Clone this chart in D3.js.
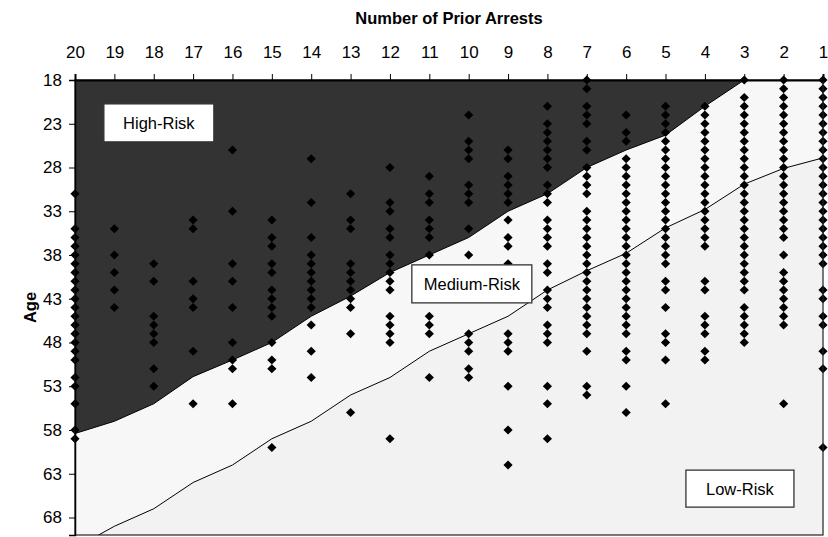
<!DOCTYPE html>
<html>
<head>
<meta charset="utf-8">
<title>Prior Arrests vs Age</title>
<script src="https://d3js.org/d3.v7.min.js"></script>
<style>
  body { margin: 0; background: #fff; }
  text { font-family: "Liberation Sans", Arial, sans-serif; }
  .tick text { font-size: 17px; fill: #000; }
</style>
</head>
<body>
<div id="chart"></div>
<script>
// x categories (number of prior arrests), left to right
const arrests = [20, 19, 18, 17, 16, 15, 14, 13, 12, 11, 10, 9, 8, 7, 6, 5, 4, 3, 2, 1];
const ageTicks = [18, 23, 28, 33, 38, 43, 48, 53, 58, 63, 68];

// boundary ages for each arrests value
const highBoundary = [58.4, 57, 55, 51.9, 50, 48, 45, 42.7, 40, 38, 36, 33, 31, 28, 26, 24.3, 21, 18, 18, 18];
const lowBoundary = [71.5, 69, 67, 64, 62, 59, 57, 54, 52, 49, 47, 45, 42, 39.8, 37.8, 34.9, 32.8, 29.9, 28.1, 26.9];

// ages observed in each column
const span = (a, b) => d3.range(a, b + 1);
const agesByArrests = {
  20: [31, ...span(35, 50), 52, 53, 55, 58, 59],
  19: [35, 38, 40, 42, 44],
  18: [39, 41, 45, 46, 47, 48, 51, 53],
  17: [34, 35, 41, 43, 44, 49, 55],
  16: [26, 33, 39, 41, 44, 48, 50, 51, 55],
  15: [34, 36, 37, 39, 40, 42, 43, 44, 45, 48, 50, 51, 60],
  14: [27, 32, 36, ...span(38, 44), 46, 49, 52],
  13: [31, 34, 35, ...span(39, 44), 47, 56],
  12: [28, 32, 33, 35, 36, ...span(38, 42), 45, 46, 47, 48, 59],
  11: [29, 31, 32, 34, 35, 36, 38, 45, 46, 47, 52],
  10: [22, 25, 26, 27, 30, 31, 32, 35, 38, 47, 48, 49, 51, 52],
  9: [26, 27, 29, 30, 31, 32, 34, 36, 37, 39, 47, 48, 49, 53, 58, 62],
  8: [21, 23, 24, 25, 26, 27, 28, 30, 31, 32, 34, 35, 36, 37, 39, 40, 42, 43, 44, 46, 47, 48, 53, 55, 59],
  7: [18, 19, 21, 22, 23, 25, 26, ...span(28, 31), ...span(33, 47), 49, 53, 54],
  6: [22, 24, 25, ...span(27, 47), 49, 50, 53, 56],
  5: [...span(21, 39), 41, 42, 44, 47, 48, 50, 55],
  4: [...span(21, 37), 41, 42, 45, 46, 47, 49, 50],
  3: [18, ...span(20, 42), ...span(44, 48)],
  2: [...span(18, 36), 38, ...span(40, 46), 55],
  1: [...span(18, 39), 42, 43, 45, 46, 49, 51, 60]
};

const zones = [
  {name: "High-Risk", arrests: 17.87, age: 22.9, w: 110, h: 38},
  {name: "Medium-Risk", arrests: 9.92, age: 41.3, w: 120, h: 38},
  {name: "Low-Risk", arrests: 3.11, age: 64.7, w: 108, h: 37}
];

const W = 828, H = 537;
const pL = 75, pR = 823, pT = 80, pB = 535;

const svg = d3.select("#chart").append("svg")
  .attr("width", W).attr("height", H);

const x = d3.scaleLinear().domain([20, 1]).range([pL, pR]);
const y = d3.scaleLinear().domain([18, 70]).range([pT, pB]);

svg.append("clipPath").attr("id", "plot")
  .append("rect").attr("x", pL).attr("y", pT)
  .attr("width", pR - pL).attr("height", pB - pT);

const g = svg.append("g").attr("clip-path", "url(#plot)");

// background zones
const idx = arrests.map((d, i) => i);
g.append("path")
  .attr("fill", "#f2f2f2")
  .attr("d", d3.area().x(i => x(arrests[i])).y0(() => y(70)).y1(i => y(lowBoundary[i]))(idx));
g.append("path")
  .attr("fill", "#f7f7f7")
  .attr("d", d3.area().x(i => x(arrests[i])).y0(i => y(lowBoundary[i])).y1(i => y(highBoundary[i]))(idx));
g.append("path")
  .attr("fill", "#333333")
  .attr("d", d3.area().x(i => x(arrests[i])).y0(i => y(highBoundary[i])).y1(() => y(18))(idx));

const line = d3.line().x(i => x(arrests[i]));
g.append("path").attr("fill", "none").attr("stroke", "#000").attr("stroke-width", 1)
  .attr("d", line.y(i => y(lowBoundary[i]))(idx));
g.append("path").attr("fill", "none").attr("stroke", "#000").attr("stroke-width", 1)
  .attr("d", line.y(i => y(highBoundary[i]))(idx));

// points
const points = [];
arrests.forEach(a => agesByArrests[a].forEach(age => points.push({a, age})));
const s = 4.6;
svg.append("g").selectAll("path")
  .data(points).enter().append("path")
  .attr("transform", d => `translate(${x(d.a)},${y(d.age)})`)
  .attr("d", `M0,${-s}L${s},0L0,${s}L${-s},0Z`)
  .attr("fill", "#000");

// zone labels
const lab = svg.append("g").selectAll("g").data(zones).enter().append("g")
  .attr("transform", d => `translate(${x(d.arrests)},${y(d.age)})`);
lab.append("rect")
  .attr("x", d => -d.w / 2).attr("y", d => -d.h / 2)
  .attr("width", d => d.w).attr("height", d => d.h)
  .attr("fill", "#fff").attr("stroke", "#333").attr("stroke-width", 1.3);
lab.append("text")
  .attr("text-anchor", "middle").attr("dy", "0.36em")
  .style("font-size", "16.5px")
  .text(d => d.name);

// frame
svg.append("rect")
  .attr("x", pL).attr("y", pT).attr("width", pR - pL).attr("height", pB - pT)
  .attr("fill", "none").attr("stroke", "#222").attr("stroke-width", 1.2);

// axes
svg.append("g")
  .attr("transform", `translate(0,${pT})`)
  .call(d3.axisTop(x).tickValues(arrests).tickSize(6).tickPadding(16).tickFormat(d3.format("d")))
  .call(a => a.select(".domain").attr("stroke-width", 2))
  .call(a => a.selectAll(".tick text").attr("font-family", null));

svg.append("g")
  .attr("transform", `translate(${pL},0)`)
  .call(d3.axisLeft(y).tickValues(ageTicks).tickSize(6).tickPadding(7))
  .call(a => a.select(".domain").attr("stroke-width", 1.5))
  .call(a => a.selectAll(".tick text").attr("font-family", null));

svg.append("text")
  .attr("x", (pL + pR) / 2).attr("y", 24)
  .attr("text-anchor", "middle")
  .style("font-size", "16.5px").style("font-weight", "bold")
  .text("Number of Prior Arrests");

svg.append("text")
  .attr("transform", `translate(36,${(pT + pB) / 2}) rotate(-90)`)
  .attr("text-anchor", "middle")
  .style("font-size", "16.5px").style("font-weight", "bold")
  .text("Age");
</script>
</body>
</html>
